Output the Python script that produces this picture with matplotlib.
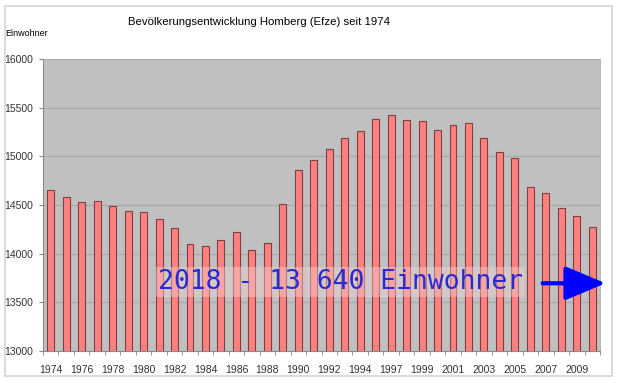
import numpy as np
import matplotlib
matplotlib.use('Agg')
import matplotlib.pyplot as plt
from matplotlib.patches import Rectangle

# dados
anos = [str(a) for a in range(1974, 1995)] + [str(a) for a in range(1996, 2011)]
einwohner = [14650, 14585, 14530, 14538, 14490, 14441, 14425, 14356, 14260, 14099,
             14079, 14144, 14223, 14034, 14109, 14507, 14857, 14963, 15079, 15192,
             15257, 15384, 15425, 15377, 15360, 15268, 15322, 15339, 15185, 15043,
             14979, 14688, 14619, 14472, 14387, 14274]
yticks = [13000, 13500, 14000, 14500, 15000, 15500, 16000]
titel = 'Bevölkerungsentwicklung Homberg (Efze) seit 1974'
hinweis = '2018 - 13 640 Einwohner'

plt.rcParams['font.family'] = ['Liberation Sans', 'DejaVu Sans']

fig = plt.figure(figsize=(6.2, 3.83), dpi=100)
fig.patches.append(Rectangle((5/620, 7/383), 607/620, 370/383, transform=fig.transFigure,
                             fill=False, edgecolor='#d4d4d4', linewidth=1.2))

ax = fig.add_axes([43/620, 32/383, 557/620, 292/383])
ax.set_facecolor('#c0c0c0')
x = np.arange(len(anos))
ax.bar(x, einwohner, width=0.45, color='#ff8080', edgecolor='#804040', linewidth=0.8, zorder=3)

ax.set_xlim(-0.5, len(anos) - 0.5)
ax.set_ylim(13000, 16000)
ax.set_yticks(yticks)
ax.set_yticklabels([str(v) for v in yticks], fontsize=7.5, color='#333333')
ax.yaxis.grid(True, color='#a8a8a8', linewidth=0.8, zorder=0)
ax.set_xticks(x[::2])
ax.set_xticklabels(anos[::2], fontsize=7.5, color='#333333')
ax.set_xticks(np.arange(-0.5, len(anos), 1), minor=True)
ax.tick_params(axis='x', which='major', length=0, pad=10)
ax.tick_params(axis='x', which='minor', length=3, color='#888888')
ax.tick_params(axis='y', length=3, color='#888888', pad=4)
for s in ['left', 'bottom']:
    ax.spines[s].set_color('#8a8a8a')
for s in ['top', 'right']:
    ax.spines[s].set_color('#a8a8a8')
    ax.spines[s].set_linewidth(0.6)

fig.text(259/620, 1 - 22/383, titel, ha='center', va='center', fontsize=8.2, color='black')
fig.text(5/620, 1 - 33/383, 'Einwohner', ha='left', va='center', fontsize=6.5)

# hinweis 2018 + pfeil
ax.text(0.206, 0.237, hinweis, transform=ax.transAxes, ha='left', va='center',
        family='DejaVu Sans Mono', fontsize=19, color='#2a2ad0', zorder=5,
        bbox=dict(boxstyle='square,pad=0.08', facecolor='#f0d0d0', edgecolor='none', alpha=0.45))
ax.annotate('', xy=(1.01, 0.232), xytext=(0.897, 0.232), xycoords='axes fraction',
            arrowprops=dict(arrowstyle='-|>,head_length=2.5,head_width=1.05', lw=3,
                            color='#0000ff', shrinkA=0, shrinkB=0),
            annotation_clip=False, zorder=6)

fig.savefig('out.png', dpi=100)
